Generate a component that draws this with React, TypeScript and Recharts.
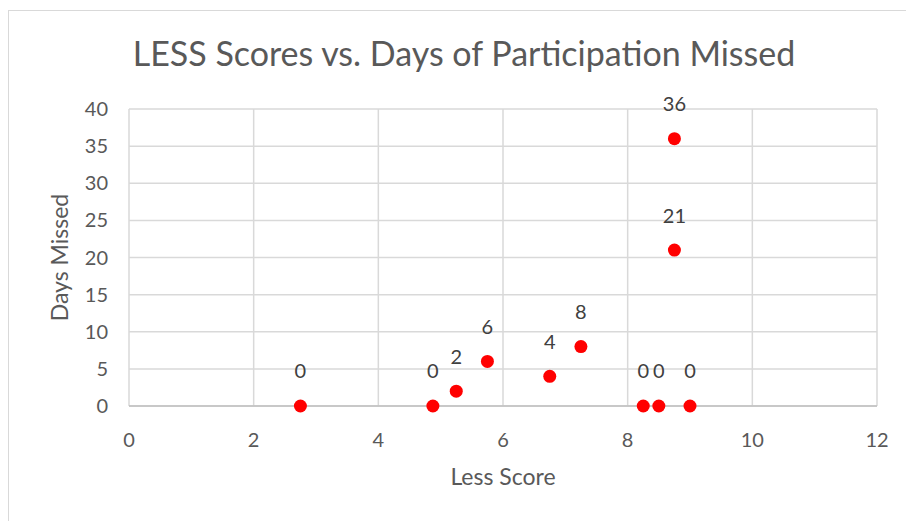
import { ScatterChart, Scatter, XAxis, YAxis, CartesianGrid, LabelList } from "recharts"

const lessScores = [2.75, 4.875, 5.25, 5.75, 6.75, 7.25, 8.25, 8.5, 9, 8.75, 8.75]
const daysMissed = [0, 0, 2, 6, 4, 8, 0, 0, 0, 36, 21]
const xTicks = [0, 2, 4, 6, 8, 10, 12]
const yTicks = [0, 5, 10, 15, 20, 25, 30, 35, 40]

const FONT = "Lato, 'Open Sans', sans-serif"
const TEXT = "#595959"

const points = lessScores.map((x, i) => ({ x, y: daysMissed[i] }))

export default function App() {
  return (
    <div
      style={{
        position: "absolute",
        left: 0,
        top: 0,
        width: 906,
        height: 521,
        background: "#fff",
        fontFamily: FONT,
        overflow: "hidden",
      }}
    >
      <div
        style={{
          position: "absolute",
          left: 8,
          top: 10,
          width: 910,
          height: 520,
          border: "1px solid #d9d9d9",
        }}
      />
      <div
        style={{
          position: "absolute",
          left: 0,
          width: 906,
          top: 32,
          textAlign: "center",
          fontSize: 34,
          color: TEXT,
          paddingLeft: 22,
          boxSizing: "border-box",
        }}
      >
        LESS Scores vs. Days of Participation Missed
      </div>
      <div style={{ position: "absolute", left: 0, top: 0 }}>
        <ScatterChart
          width={906}
          height={521}
          margin={{ top: 109, right: 29, bottom: 0, left: 0 }}
          style={{ fontFamily: FONT }}
        >
          <CartesianGrid stroke="#d9d9d9" strokeWidth={1.5} />
          <XAxis
            type="number"
            dataKey="x"
            domain={[0, 12]}
            ticks={xTicks}
            interval={0}
            axisLine={{ stroke: "#bfbfbf", strokeWidth: 1.5 }}
            tickLine={false}
            tickSize={0}
            tickMargin={27}
            tick={{ fill: TEXT, fontSize: 20 }}
            height={115}
            label={{ value: "Less Score", position: "insideTop", offset: 63, fill: TEXT, fontSize: 23 }}
          />
          <YAxis
            type="number"
            dataKey="y"
            domain={[0, 40]}
            ticks={yTicks}
            interval={0}
            axisLine={false}
            tickLine={false}
            tickSize={0}
            tickMargin={21}
            tick={{ fill: TEXT, fontSize: 20 }}
            width={129}
            label={{
              value: "Days Missed",
              angle: -90,
              position: "insideLeft",
              offset: 60,
              style: { textAnchor: "middle" },
              fill: TEXT,
              fontSize: 23,
            }}
          />
          <Scatter
            data={points}
            fill="#ff0000"
            isAnimationActive={false}
            shape={(p: any) => <circle cx={p.cx} cy={p.cy} r={6.5} fill="#ff0000" />}
          >
            <LabelList dataKey="y" position="top" offset={23} fill="#404040" fontSize={20} />
          </Scatter>
        </ScatterChart>
      </div>
    </div>
  )
}
